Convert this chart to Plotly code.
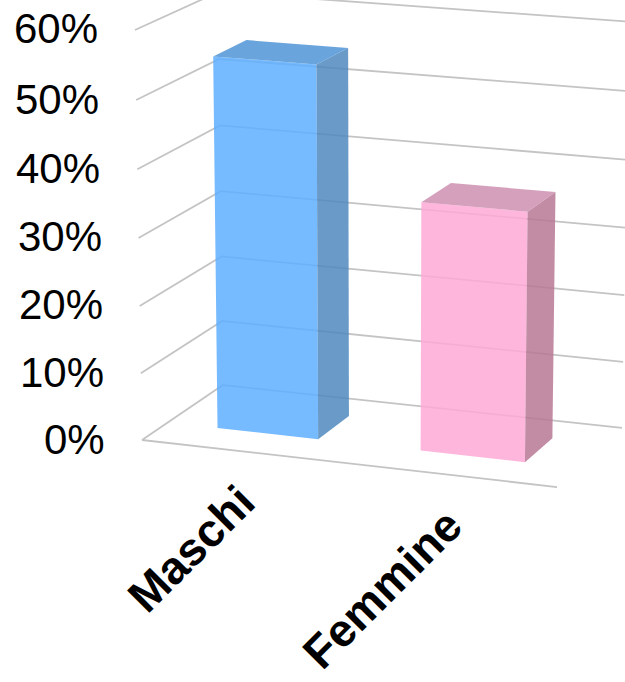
import plotly.graph_objects as go

# ---- data ----
categories = ["Maschi", "Femmine"]
values = [55.0, 36.5]
tick_values = [0, 10, 20, 30, 40, 50, 60]
tick_labels = ["0%", "10%", "20%", "30%", "40%", "50%", "60%"]

# ---- 3D view (homogeneous projection: X = category, Y = depth, Z = percent) ----
CAM = [
    [197.5, 91.2, -0.182, 142.0],
    [14.75, -37.3, -6.848, 440.0],
    [-0.018, 0.046, -0.00048, 1.0],
]
BAR_LEFT, BAR_RIGHT = 0.25, 0.75   # inside each category slot
BAR_FRONT, BAR_BACK = 0.31, 0.72   # inside the depth range 0..1

FACE_COLORS = {
    "Maschi": ("rgba(94,174,255,0.85)", "rgba(80,136,190,0.85)", "rgba(80,148,214,0.85)"),
    "Femmine": ("rgba(255,169,214,0.85)", "rgba(184,120,149,0.85)", "rgba(204,143,176,0.85)"),
}
GRID_COLOR = "#c4c4c4"
FONT = "Arial, Liberation Sans, sans-serif"


def proj(X, Y, Z):
    u = CAM[0][0] * X + CAM[0][1] * Y + CAM[0][2] * Z + CAM[0][3]
    v = CAM[1][0] * X + CAM[1][1] * Y + CAM[1][2] * Z + CAM[1][3]
    w = CAM[2][0] * X + CAM[2][1] * Y + CAM[2][2] * Z + CAM[2][3]
    return u / w, v / w


def poly(points):
    xs, ys = [], []
    for p in points:
        u, v = proj(*p)
        xs.append(u)
        ys.append(v)
    xs.append(xs[0])
    ys.append(ys[0])
    return xs, ys


n = len(categories)
fig = go.Figure()

# gridlines: left wall + back wall
gx, gy = [], []
for z in tick_values:
    for p in [(0, 0, z), (0, 1, z), (n, 1, z)]:
        u, v = proj(*p)
        gx.append(u)
        gy.append(v)
    gx.append(None)
    gy.append(None)
# floor front edge
for p in [(0, 0, 0), (n, 0, 0)]:
    u, v = proj(*p)
    gx.append(u)
    gy.append(v)
fig.add_trace(go.Scatter(x=gx, y=gy, mode="lines",
                         line=dict(color=GRID_COLOR, width=1.8),
                         hoverinfo="skip"))

# bars
for i, (cat, h) in enumerate(zip(categories, values)):
    x0, x1 = i + BAR_LEFT, i + BAR_RIGHT
    y0, y1 = BAR_FRONT, BAR_BACK
    front_c, side_c, top_c = FACE_COLORS[cat]
    faces = [
        ([(x0, y0, 0), (x1, y0, 0), (x1, y0, h), (x0, y0, h)], front_c),
        ([(x1, y0, 0), (x1, y1, 0), (x1, y1, h), (x1, y0, h)], side_c),
        ([(x0, y0, h), (x1, y0, h), (x1, y1, h), (x0, y1, h)], top_c),
    ]
    for pts, col in faces:
        xs, ys = poly(pts)
        fig.add_trace(go.Scatter(x=xs, y=ys, mode="lines", fill="toself",
                                 fillcolor=col, line=dict(width=0),
                                 name=cat, hoverinfo="name"))

# value axis labels
annotations = []
for z, lab in zip(tick_values, tick_labels):
    u, v = proj(0, 0, z)
    annotations.append(dict(x=u, y=v, xref="x", yref="y", text=lab,
                            showarrow=False, xanchor="right", yanchor="middle",
                            xshift=-35, yshift=1,
                            font=dict(family=FONT, size=42, color="black")))
# category labels
for i, cat in enumerate(categories):
    u, v = proj(i + 0.5, 0, 0)
    annotations.append(dict(x=u, y=v, xref="x", yref="y", text=cat,
                            showarrow=False, textangle=-45,
                            xanchor="right", yanchor="top",
                            xshift=24, yshift=-21,
                            font=dict(family=FONT, size=46, color="black",
                                      weight="bold")))

fig.update_layout(
    width=625, height=682,
    margin=dict(l=0, r=0, t=0, b=0),
    paper_bgcolor="white", plot_bgcolor="white",
    showlegend=False,
    xaxis=dict(range=[0, 625], visible=False, fixedrange=True),
    yaxis=dict(range=[682, 0], visible=False, fixedrange=True),
    annotations=annotations,
)

fig.write_html(
    "out.html",
    config={"displayModeBar": False},
    post_script="document.body.style.margin='0';document.body.style.overflow='hidden';",
)
